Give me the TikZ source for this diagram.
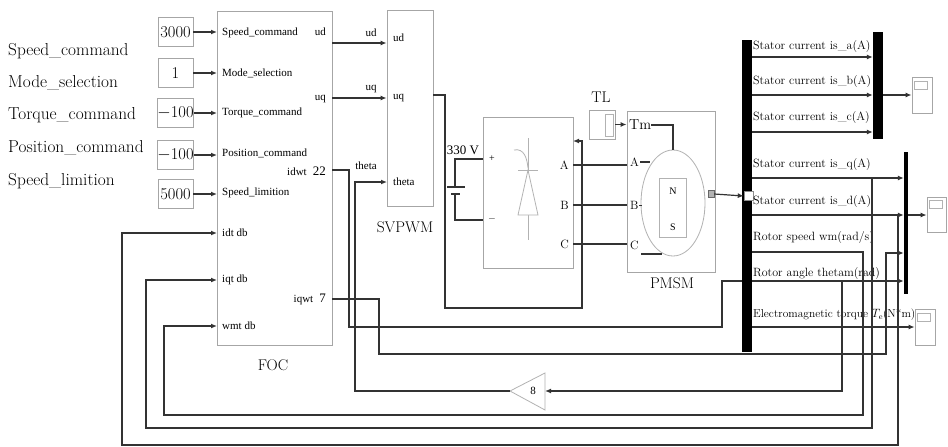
\documentclass[tikz,border=0pt]{standalone}
\usepackage{fontspec}
\newfontfamily\tms{Liberation Serif}
\usetikzlibrary{arrows.meta}
\tikzset{
 blk/.style={draw=black!35, line width=0.8pt, inner sep=0pt},
 wire/.style={draw=black!80, line width=1.2pt},
 arr/.style={wire, -{Latex[length=6pt,width=5pt]}},
 bigtxt/.style={font=\fontsize{17.3}{19}\selectfont, inner sep=0pt},
 ttl/.style={font=\fontsize{15.5}{18}\selectfont, inner sep=0pt},
 cst/.style={blk, minimum width=35pt, minimum height=29pt, font=\fontsize{16.5}{17}\selectfont},
 ptxt/.style={font=\tms\fontsize{11}{12}\selectfont, inner sep=0pt},
 sig/.style={font=\fontsize{12}{14}\selectfont, inner sep=0pt, anchor=west},
 barnode/.style={fill=black, inner sep=0pt},
 scopebox/.style={blk, minimum width=20pt, minimum height=36pt},
 gry/.style={draw=black!30, line width=0.8pt},
}
\begin{document}
\begin{tikzpicture}[x=1pt,y=-1pt]
\useasboundingbox[fill=white] (0,0) rectangle (948,447);

% ---------- left labels ----------
\node[bigtxt, anchor=base west] (t1) at (8,55) {Speed\_command};
\node[bigtxt, anchor=base west] (t2) at (8,87) {Mode\_selection};
\node[bigtxt, anchor=base west] (t3) at (8,119) {Torque\_command};
\node[bigtxt, anchor=base west] (t4) at (8,152) {Position\_command};
\node[bigtxt, anchor=base west] (t5) at (8,185) {Speed\_limition};

% ---------- constants ----------
\node[cst] (c1) at (175.5,32) {3000};
\node[cst] (c2) at (175.5,73) {1};
\node[cst, inner sep=0pt] (c3) at (175.5,113) {$-$100};
\node[cst, inner sep=0pt] (c4) at (175.5,155) {$-$100};
\node[cst] (c5) at (175.5,194) {5000};

% ---------- FOC ----------
\node[blk, minimum width=115pt, minimum height=334pt] (foc) at (274.5,178) {};
\node[ttl] (foct) at (273,365) {FOC};
\node[ptxt, anchor=west] (fl1) at (222,33) {Speed\_command};
\node[ptxt, anchor=west] (fl2) at (222,73) {Mode\_selection};
\node[ptxt, anchor=west] (fl3) at (222,113) {Torque\_command};
\node[ptxt, anchor=west] (fl4) at (222,153) {Position\_command};
\node[ptxt, anchor=west] (fl5) at (222,193) {Speed\_limition};
\node[ptxt, anchor=west] (fl6) at (222,233) {idt db};
\node[ptxt, anchor=west] (fl7) at (222,280) {iqt db};
\node[ptxt, anchor=west] (fl8) at (222,326) {wmt db};
\node[ptxt, anchor=east] (fr1) at (326,32) {ud};
\node[ptxt, anchor=east] (fr2) at (326,99) {uq};
\node[ptxt, anchor=east] (fr3) at (326,171) {idwt\hspace{6pt}{\fontsize{13}{14}\selectfont 22}};
\node[ptxt, anchor=east] (fr4) at (326,299) {iqwt\hspace{6pt}{\fontsize{13}{14}\selectfont 7}};

\coordinate (fi1) at (217,32);
\coordinate (fi2) at (217,73);
\coordinate (fi3) at (217,113);
\coordinate (fi4) at (217,155);
\coordinate (fi5) at (217,194);
\coordinate (fidt) at (217,233);
\coordinate (fiqt) at (217,280);
\coordinate (fwmt) at (217,326);
\coordinate (fud) at (332,43);
\coordinate (fuq) at (332,98);
\coordinate (fidw) at (332,170);
\coordinate (fiqw) at (332,299);

\draw[arr] (c1.east) -- (fi1);
\draw[arr] (c2.east) -- (fi2);
\draw[arr] (c3.east) -- (fi3);
\draw[arr] (c4.east) -- (fi4);
\draw[arr] (c5.east) -- (fi5);

% ---------- SVPWM ----------
\node[blk, minimum width=46pt, minimum height=196pt] (sv) at (410,108) {};
\node[ttl] (svt) at (405,227) {SVPWM};
\node[ptxt, anchor=west] (sv1) at (393,38) {ud};
\node[ptxt, anchor=west] (sv2) at (393,98) {uq};
\node[ptxt, anchor=west] (sv3) at (393,182) {theta};
\coordinate (svth) at (387,182);
\coordinate (svout) at (433,95);
\node[ptxt] (wl1) at (371,33) {ud};
\node[ptxt] (wl2) at (371,89) {uq};
\node[ptxt] (wl3) at (366,166) {theta};

\draw[arr] (fud) -- (sv.west |- fud);
\draw[arr] (fuq) -- (sv.west |- fuq);

% ---------- inverter ----------
\node[blk, minimum width=90pt, minimum height=151pt] (inv) at (528,192.5) {};
\draw[gry] (528,138) -- (528,240);
\draw[gry, fill=white] (528,170) -- (518,215) -- (538,215) -- cycle;
\draw[gry] (518,170) -- (538,170);
\draw[gry] (514,150) .. controls (524,148) and (527,158) .. (528,168);
\node[ptxt, font=\tms\fontsize{10}{11}\selectfont] (ip) at (492,159) {+};
\node[ptxt, font=\tms\fontsize{10}{11}\selectfont] (in) at (492,219) {$-$};
\node[ptxt, font=\fontsize{12}{13}\selectfont, anchor=east] (iA) at (569,165) {A};
\node[ptxt, font=\fontsize{12}{13}\selectfont, anchor=east] (iB) at (569,205) {B};
\node[ptxt, font=\fontsize{12}{13}\selectfont, anchor=east] (iC) at (569,244) {C};
\coordinate (invp) at (483,159);
\coordinate (invn) at (483,220);
\coordinate (invg) at (573,141);
\coordinate (ia) at (573,165);
\coordinate (ib) at (573,205);
\coordinate (ic) at (573,244);

% battery
\node[ptxt, font=\tms\fontsize{13}{14}\selectfont] (vdc) at (463,150) {330 V};
\coordinate (bt1) at (455,187);
\coordinate (bt2) at (455,194);
\draw[wire] (invp) -- (455,159) -- (bt1);
\draw[wire] (bt2) -- (455,220) -- (invn);
\draw[wire, line width=1.5pt] (447,187) -- (465,187);
\draw[wire, line width=1.5pt] (451,194) -- (460,194);

% SVPWM -> inverter
\draw[arr] (svout) -- (445,95) -- (445,308) -- (582,308) -- (582,141) -- (invg);

% ---------- PMSM ----------
\node[blk, minimum width=88pt, minimum height=161pt] (pm) at (671,191.5) {};
\node[ttl] (pmt) at (672,283) {PMSM};
\draw[gry] (673,203) ellipse [x radius=32, y radius=53];
\draw[gry] (659,178) rectangle (686,237);
\node[ptxt, font=\tms\fontsize{10}{11}\selectfont] (pN) at (673,191) {N};
\node[ptxt, font=\tms\fontsize{10}{11}\selectfont] (pS) at (673,227) {S};
\node[ptxt, font=\fontsize{14.5}{15}\selectfont, anchor=west] (pTm) at (629,125) {Tm};
\node[ptxt, font=\fontsize{12}{13}\selectfont, anchor=west] (pA) at (630,162) {A};
\node[ptxt, font=\fontsize{12}{13}\selectfont, anchor=west] (pB) at (630,205) {B};
\node[ptxt, font=\fontsize{12}{13}\selectfont, anchor=west] (pC) at (630,245) {C};
\draw[wire] (pTm.east) -- (673,125) -- (673,150);
\draw[wire] (pA.east) ++(1pt,0) -- (650,162);
\draw[wire, line width=0.8pt] (639,205) -- (642,205);
\draw[wire] (641,254) -- (662,254);
\draw[wire] (ia) -- (pm.west |- ia);
\draw[wire] (ib) -- (pm.west |- ib);
\draw[wire] (ic) -- (pm.west |- ic);

% TL
\node[blk, minimum width=26pt, minimum height=29pt] (tl) at (602,124.5) {};
\draw[gry] (605,114) rectangle (613,136);
\node[ttl] (tlt) at (601,97) {TL};
\draw[arr] (tl.east) -- (pm.west |- tl.east);

% PMSM output port and bus
\node[draw=black!60, fill=black!30, minimum width=6pt, minimum height=7pt, inner sep=0pt] (pout) at (711,194) {};
\node[barnode, minimum width=10pt, minimum height=312pt] (dmx) at (747,196) {};
\node[draw=black!45, fill=white, minimum size=9pt, inner sep=0pt] (din) at (748.5,196) {};
\draw[arr] (pout.east) -- (din.west);

% mux bars and scopes
\node[barnode, minimum width=10pt, minimum height=107pt] (mx1) at (878,85.5) {};
\node[barnode, minimum width=4pt, minimum height=142pt] (mx2) at (906,223) {};
\node[scopebox] (s1) at (922,95) {};
\node[scopebox, minimum width=19pt, minimum height=35pt] (s2) at (936.5,214.5) {};
\node[scopebox] (s3) at (925,327) {};
\draw[gry] ([xshift=3pt,yshift=-5pt]s1.north west) rectangle ++(13pt,-8pt);
\draw[gry] ([xshift=3pt,yshift=-4pt]s2.north west) rectangle ++(13pt,-8pt);
\draw[gry] ([xshift=3pt,yshift=-5pt]s3.north west) rectangle ++(13pt,-8pt);

% signal labels
\node[sig] (g1) at (753,47) {Stator current is\_a(A)};
\node[sig] (g2) at (753,82) {Stator current is\_b(A)};
\node[sig] (g3) at (753,118) {Stator current is\_c(A)};
\node[sig] (g4) at (753,165) {Stator current is\_q(A)};
\node[sig] (g5) at (753,202) {Stator current is\_d(A)};
\node[sig] (g6) at (753,238) {Rotor speed wm(rad/s)};
\node[sig] (g7) at (753,274) {Rotor angle thetam(rad)};
\node[sig, font=\fontsize{11.5}{13}\selectfont] (g8) at (753,315) {Electromagnetic torque $T_{\mathrm{e}}$(N*m)};

\coordinate (da) at (752,57);
\coordinate (db) at (752,95);
\coordinate (dc) at (752,132);
\coordinate (dq) at (752,178);
\coordinate (dd) at (752,215);
\coordinate (dw) at (752,252);
\coordinate (dth) at (752,281);
\coordinate (dte) at (752,327);
\coordinate (dthin) at (742,281);

\draw[arr] (da) -- (mx1.west |- da);
\draw[arr] (db) -- (mx1.west |- db);
\draw[arr] (dc) -- (mx1.west |- dc);
\draw[arr] (mx1.east |- db) -- (s1.west |- db);
\draw[arr] (dq) -- (mx2.west |- dq);
\draw[arr] (dd) -- (mx2.west |- dd);
\draw[arr] (mx2.east |- dd) -- (s2.west |- dd);
\draw[arr] (dth) -- (mx2.west |- dth);
\draw[arr] (dte) -- (s3.west |- dte);

% gain
\coordinate (gin) at (545,391);
\coordinate (gout) at (510,391);
\draw[gry, fill=white] (gout) -- (545,373) -- (545,410) -- cycle;
\node[ptxt] (gk) at (533,391) {8};

% feedback wiring
\draw[arr] (842,281) -- (842,391) -- (gin);
\draw[arr] (gout) -- (355,391) -- (355,182) -- (svth);
\draw[arr] (dw) -- (863,252) -- (863,415) -- (164,415) -- (164,326) -- (fwmt);
\draw[arr] (872,178) -- (872,428) -- (146,428) -- (146,280) -- (fiqt);
\draw[arr] (898,215) -- (898,445) -- (122,445) -- (122,233) -- (fidt);
\draw[arr] (fiqw) -- (379,299) -- (379,354) -- (886,354) -- (886,253) -- (mx2.west |- 0,253);
\draw[wire] (fidw) -- (349,170) -- (349,327) -- (722,327) -- (722,281) -- (dthin);
\end{tikzpicture}
\end{document}
